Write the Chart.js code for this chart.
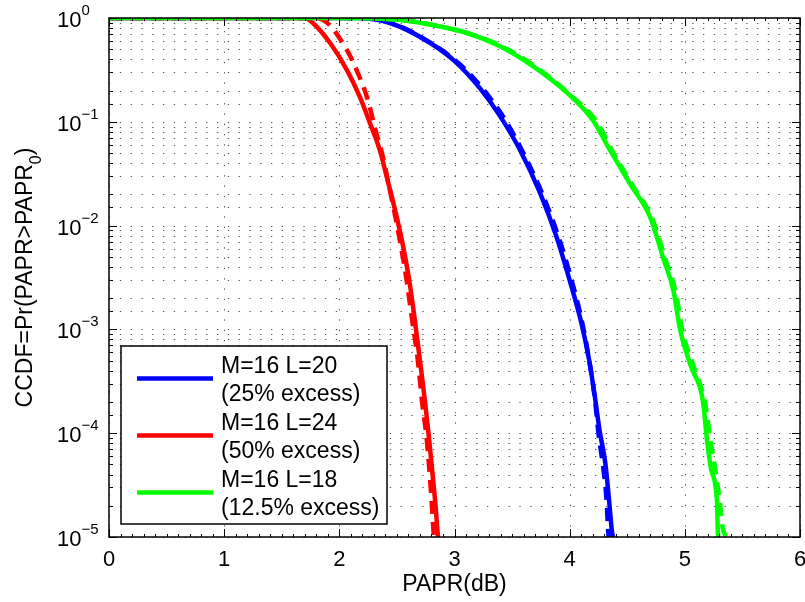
<!DOCTYPE html>
<html>
<head>
<meta charset="utf-8">
<script src="https://cdn.jsdelivr.net/npm/chart.js@4.4.0/dist/chart.umd.min.js"></script>
<style>
  html, body { margin: 0; padding: 0; background: #fff; }
  #wrap { width: 805px; height: 602px; }
</style>
</head>
<body>
<div id="wrap"><canvas id="ccdfChart"></canvas></div>
<script>
// values: PAPR (dB) against CCDF
const l20SolidPapr = [0, 2.15, 2.44, 2.79, 3.02, 3.22, 3.39, 3.57, 3.74, 3.89, 4.00, 4.10, 4.17, 4.22, 4.26, 4.31, 4.34, 4.366, 4.375];
const l20SolidCcdf = [1, 1, 0.895, 0.574, 0.368, 0.211, 0.116, 0.0533, 0.021, 0.00756, 0.00297, 0.00117, 5.0e-4, 2.2e-4, 1.06e-4, 5.1e-5, 2.4e-5, 1.16e-5, 1e-5];
const l20DashPapr = [0, 2.18, 2.47, 2.81, 3.05, 3.25, 3.42, 3.59, 3.76, 3.91, 4.02, 4.11, 4.17, 4.22, 4.25, 4.29, 4.32, 4.335, 4.34];
const l20DashCcdf = [1, 1, 0.88, 0.56, 0.355, 0.205, 0.113, 0.052, 0.0205, 0.0074, 0.0029, 0.00115, 5.0e-4, 2.1e-4, 1.0e-4, 4.8e-5, 2.3e-5, 1.1e-5, 1e-5];

const l24SolidPapr = [0, 1.70, 1.77, 1.92, 2.066, 2.179, 2.266, 2.352, 2.413, 2.474, 2.543, 2.604, 2.656, 2.700, 2.743, 2.778, 2.813, 2.839, 2.856];
const l24SolidCcdf = [1, 1, 0.895, 0.574, 0.315, 0.173, 0.097, 0.053, 0.029, 0.0157, 0.00723, 0.00311, 0.00122, 5.0e-4, 2.07e-4, 9.1e-5, 3.66e-5, 1.8e-5, 1e-5];
const l24DashPapr = [0, 1.76, 1.86, 2.066, 2.161, 2.248, 2.309, 2.370, 2.439, 2.509, 2.578, 2.630, 2.682, 2.717, 2.760, 2.795, 2.821];
const l24DashCcdf = [1, 1, 0.957, 0.49, 0.295, 0.162, 0.087, 0.050, 0.022, 0.009, 0.0033, 0.00128, 5.0e-4, 2.07e-4, 8.5e-5, 2.8e-5, 1e-5];

const l18SolidPapr = [0, 2.0, 2.53, 2.81, 3.11, 3.39, 3.68, 3.98, 4.20, 4.35, 4.52, 4.70, 4.81, 4.90, 4.96, 5.05, 5.16, 5.19, 5.23, 5.28, 5.286, 5.29];
const l18SolidCcdf = [1, 1, 0.956, 0.856, 0.717, 0.537, 0.344, 0.189, 0.104, 0.0533, 0.0256, 0.012, 0.00496, 0.00238, 9.8e-4, 4.5e-4, 1.94e-4, 9.1e-5, 4.4e-5, 2.1e-5, 1.16e-5, 1e-5];
const l18DashPapr = [0, 2.05, 2.57, 2.85, 3.14, 3.43, 3.72, 4.01, 4.24, 4.38, 4.55, 4.72, 4.83, 4.92, 4.98, 5.08, 5.18, 5.22, 5.27, 5.31, 5.33, 5.37];
const l18DashCcdf = [1, 1, 0.945, 0.84, 0.70, 0.52, 0.33, 0.18, 0.098, 0.05, 0.024, 0.0115, 0.0048, 0.0023, 9.5e-4, 4.3e-4, 1.85e-4, 8.8e-5, 4.1e-5, 1.9e-5, 1.2e-5, 1e-5];

const legendLabels = [
    ["M=16 L=20", "(25% excess)"],
    ["M=16 L=24", "(50% excess)"],
    ["M=16 L=18", "(12.5% excess)"]
];
const seriesColors = ["#0000ff", "#ff0000", "#00ff00"];
const xTickLabels = ["0", "1", "2", "3", "4", "5", "6"];

const FONT = '"Liberation Sans", Arial, Helvetica, sans-serif';

function pts(xs, ys) {
    return xs.map((v, i) => ({ x: v, y: ys[i] }));
}

function curve(data, color, dashed, order) {
    return {
        data: data,
        borderColor: color,
        borderWidth: 4.5,
        borderDash: dashed ? [13, 8] : [],
        pointRadius: 0,
        fill: false,
        cubicInterpolationMode: "monotone",
        order: order
    };
}

// draw text pieces side by side (for superscripts / subscripts)
function drawPieces(ctx, pieces, x, y) {
    let cx = x;
    pieces.forEach(p => {
        ctx.font = p.size + "px " + FONT;
        ctx.fillText(p.text, cx, y + (p.dy || 0));
        cx += ctx.measureText(p.text).width;
    });
}
function piecesWidth(ctx, pieces) {
    let w = 0;
    pieces.forEach(p => {
        ctx.font = p.size + "px " + FONT;
        w += ctx.measureText(p.text).width;
    });
    return w;
}

const matlabAxes = {
    id: "matlabAxes",
    beforeDatasetsDraw(chart) {
        const { ctx, chartArea: a, scales: { x, y } } = chart;
        ctx.save();
        ctx.strokeStyle = "#555";
        ctx.lineWidth = 1;
        // dotted grid, horizontal at every log tick
        ctx.setLineDash([1.3, 9.5]);
        y.ticks.forEach(t => {
            const py = Math.round(y.getPixelForValue(t.value)) + 0.5;
            ctx.beginPath(); ctx.moveTo(a.left, py); ctx.lineTo(a.right, py); ctx.stroke();
        });
        // dotted grid, vertical at major x ticks
        ctx.setLineDash([1.3, 9]);
        x.ticks.forEach(t => {
            const px = Math.round(x.getPixelForValue(t.value)) + 0.5;
            ctx.beginPath(); ctx.moveTo(px, a.bottom); ctx.lineTo(px, a.top); ctx.stroke();
        });
        ctx.restore();
    },
    afterDraw(chart) {
        const { ctx, chartArea: a, scales: { x, y } } = chart;
        ctx.save();
        ctx.strokeStyle = "#000";
        ctx.fillStyle = "#000";
        ctx.lineWidth = 1;

        // tick marks pointing inwards, on all four sides
        ctx.beginPath();
        x.ticks.forEach((t, i) => {
            const px = Math.round(x.getPixelForValue(t.value)) + 0.5;
            ctx.moveTo(px, a.bottom); ctx.lineTo(px, a.bottom - 8);
            ctx.moveTo(px, a.top); ctx.lineTo(px, a.top + 8);
            if (i < x.ticks.length - 1) {
                for (let k = 1; k < 10; k++) {
                    const mx = Math.round(x.getPixelForValue(t.value + k / 10)) + 0.5;
                    ctx.moveTo(mx, a.bottom); ctx.lineTo(mx, a.bottom - 3);
                    ctx.moveTo(mx, a.top); ctx.lineTo(mx, a.top + 3);
                }
            }
        });
        y.ticks.forEach(t => {
            const py = Math.round(y.getPixelForValue(t.value)) + 0.5;
            const len = t.major ? 8 : 4;
            ctx.moveTo(a.left, py); ctx.lineTo(a.left + len, py);
            ctx.moveTo(a.right, py); ctx.lineTo(a.right - len, py);
        });
        ctx.stroke();

        // axes box
        ctx.lineWidth = 1.5;
        ctx.strokeRect(a.left, a.top, a.right - a.left, a.bottom - a.top);

        // x tick labels
        ctx.textAlign = "center";
        ctx.textBaseline = "alphabetic";
        ctx.font = "22px " + FONT;
        x.ticks.forEach((t, i) => {
            ctx.fillText(xTickLabels[i], x.getPixelForValue(t.value), a.bottom + 29);
        });

        // y tick labels 10^n
        ctx.textAlign = "left";
        y.ticks.forEach(t => {
            const e = Math.round(Math.log10(t.value));
            if (Math.abs(Math.pow(10, e) - t.value) > t.value * 1e-6) return;
            const py = y.getPixelForValue(t.value);
            drawPieces(ctx, [
                { text: "10", size: 22, dy: 9 },
                { text: e === 0 ? "0" : "\u2212" + (-e), size: 15, dy: -3 }
            ], 57, py);
        });

        // x title
        ctx.textAlign = "center";
        ctx.font = "23px " + FONT;
        ctx.fillText("PAPR(dB)", (a.left + a.right) / 2, 591);

        // y title, rotated, with subscript 0
        ctx.save();
        ctx.translate(32, (a.top + a.bottom) / 2);
        ctx.rotate(-Math.PI / 2);
        ctx.textAlign = "left";
        const yt = [
            { text: "CCDF=Pr(PAPR>PAPR", size: 23 },
            { text: "0", size: 16, dy: 9 },
            { text: ")", size: 23 }
        ];
        drawPieces(ctx, yt, -piecesWidth(ctx, yt) / 2, 0);
        ctx.restore();

        // legend box
        const bx = 121, by = 346, bw = 266, bh = 178;
        ctx.fillStyle = "#fff";
        ctx.fillRect(bx, by, bw, bh);
        ctx.lineWidth = 1.5;
        ctx.strokeRect(bx, by, bw, bh);
        ctx.textAlign = "left";
        ctx.font = "23px " + FONT;
        legendLabels.forEach((lines, i) => {
            const base = 373 + i * 57;
            ctx.strokeStyle = seriesColors[i];
            ctx.lineWidth = 4.5;
            ctx.beginPath();
            ctx.moveTo(137, base + 5.5);
            ctx.lineTo(213, base + 5.5);
            ctx.stroke();
            ctx.fillStyle = "#000";
            ctx.fillText(lines[0], 221, base);
            ctx.fillText(lines[1], 221, base + 28);
        });
        ctx.restore();
    }
};

document.addEventListener("DOMContentLoaded", function () {
    const ctx = document.getElementById("ccdfChart").getContext("2d");
    new Chart(ctx, {
        type: "line",
        data: {
            datasets: [
                curve(pts(l20SolidPapr, l20SolidCcdf), seriesColors[0], false, 6),
                curve(pts(l24SolidPapr, l24SolidCcdf), seriesColors[1], false, 5),
                curve(pts(l18SolidPapr, l18SolidCcdf), seriesColors[2], false, 4),
                curve(pts(l20DashPapr, l20DashCcdf), seriesColors[0], true, 3),
                curve(pts(l24DashPapr, l24DashCcdf), seriesColors[1], true, 2),
                curve(pts(l18DashPapr, l18DashCcdf), seriesColors[2], true, 1)
            ]
        },
        options: {
            animation: false,
            responsive: true,
            maintainAspectRatio: false,
            layout: { padding: { left: 109, right: 5, top: 18, bottom: 65 } },
            plugins: { legend: { display: false }, tooltip: { enabled: false } },
            scales: {
                x: {
                    type: "linear",
                    min: 0,
                    max: 6,
                    ticks: { display: false, stepSize: 1 },
                    grid: { display: false, drawTicks: false },
                    border: { display: false }
                },
                y: {
                    type: "logarithmic",
                    min: 1e-5,
                    max: 1,
                    ticks: { display: false },
                    grid: { display: false, drawTicks: false },
                    border: { display: false }
                }
            }
        },
        plugins: [matlabAxes]
    });
});
</script>
</body>
</html>
